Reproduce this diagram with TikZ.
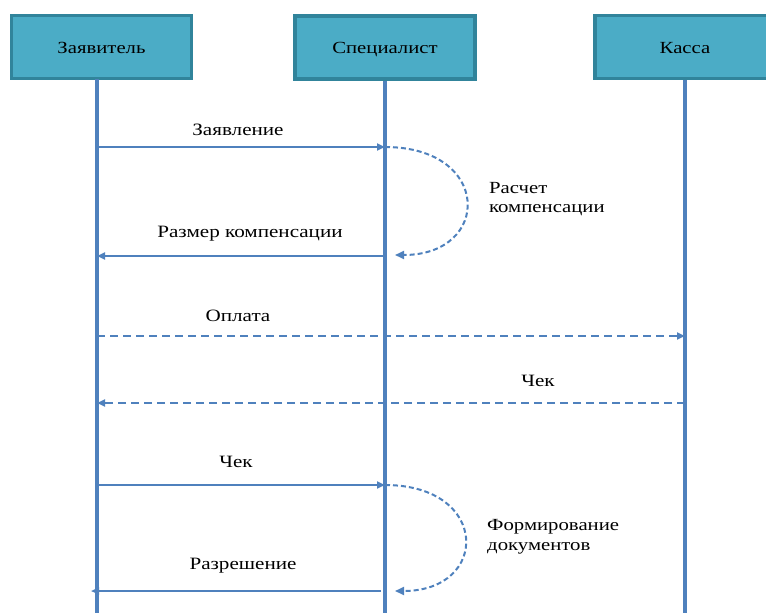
\documentclass[tikz,border=0pt]{standalone}
\usepackage{fontspec}
\setmainfont{Liberation Serif}[FakeStretch=1.22]
\usetikzlibrary{arrows.meta}
\definecolor{boxfill}{HTML}{4BACC6}
\definecolor{boxline}{HTML}{31849B}
\definecolor{flow}{HTML}{4F81BD}
\begin{document}
\begin{tikzpicture}[x=1pt,y=-1pt,
  actor/.style={draw=boxline,fill=boxfill,line width=3.2pt,minimum width=180pt,minimum height=63pt,inner sep=0pt,text height=12pt,text depth=0pt,font=\fontsize{17}{20}\selectfont},
  life/.style={draw=flow,line width=3.6pt},
  msg/.style={draw=flow,line width=2pt,-{Triangle[length=8pt,width=7pt]}},
  ret/.style={msg,dash pattern=on 8pt off 5pt},
  self/.style={draw=flow,line width=2pt,dash pattern=on 5pt off 3pt,-{Triangle[length=9pt,width=8pt]}},
  lbl/.style={font=\fontsize{17.3}{20}\selectfont,inner sep=1pt},
  note/.style={font=\fontsize{17}{19.5}\selectfont,align=left,anchor=west,inner sep=0pt}]
\useasboundingbox (0,0) rectangle (766,613);

% participants
\node[actor] (zav) at (101.5,47) {Заявитель};
\node[actor] (spec) at (385,47.5) {Специалист};
\node[actor] (kas) at (685,47) {Касса};

% lifeline ends
\coordinate (zavE) at (97,613);
\coordinate (specE) at (385,613);
\coordinate (kasE) at (685,613);
\draw[life] (97,79) coordinate (zavS) -- (zavE);
\draw[life] (spec.south) -- (specE);
\draw[life] (kas.south) -- (kasE);

% message anchors on lifelines
\coordinate (z1) at (97,147);  \coordinate (s1) at (385,147);
\coordinate (z2) at (97,256);  \coordinate (s2) at (385,256);
\coordinate (s2c) at (395,255);
\coordinate (z3) at (97,336);  \coordinate (k3) at (685,336);
\coordinate (z4) at (97,403);  \coordinate (k4) at (685,403);
\coordinate (z5) at (97,485);  \coordinate (s5) at (385,485);
\coordinate (s6c) at (395,591);
\coordinate (z6) at (91,591);  \coordinate (s6) at (381,591);

% messages
\draw[msg] (z1) -- (s1);
\node[lbl] (m1) at (238,130) {Заявление};
\draw[self] (s1) .. controls (492,147) and (492,255) .. (s2c);
\node[note] (n1) at (489,199) {Расчет\\компенсации};
\draw[msg] (s2) -- (z2);
\node[lbl] (m2) at (250,234) {Размер компенсации};
\draw[ret] (z3) -- (k3);
\node[lbl] (m3) at (238,316) {Оплата};
\draw[ret] (k4) -- (z4);
\node[lbl] (m4) at (538,381) {Чек};
\draw[msg] (z5) -- (s5);
\node[lbl] (m5) at (236,462) {Чек};
\draw[self] (s5) .. controls (490,485) and (490,591) .. (s6c);
\node[note] (n2) at (487,537) {Формирование\\документов};
\draw[msg] (s6) -- (z6);
\node[lbl] (m6) at (243,566) {Разрешение};
\end{tikzpicture}
\end{document}
